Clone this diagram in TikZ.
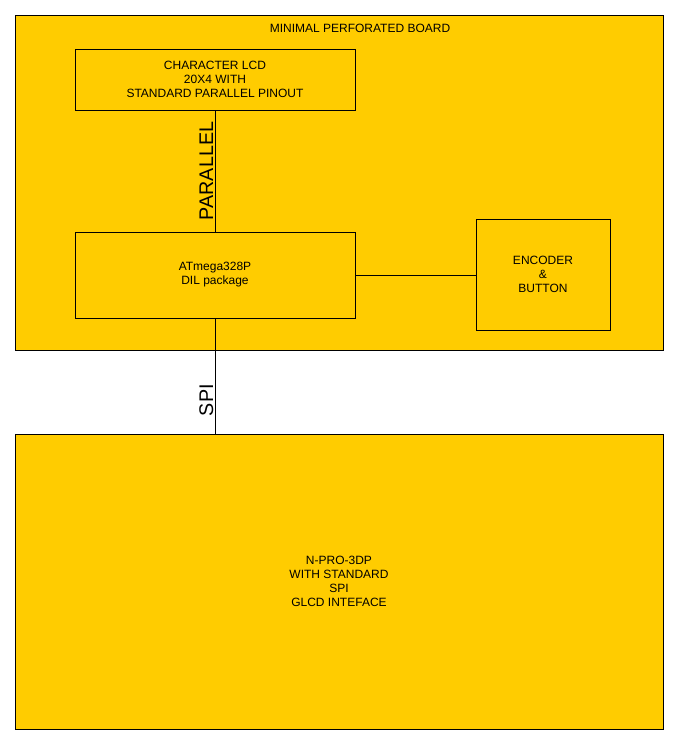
\documentclass[tikz,border=0pt]{standalone}
\usepackage{fontspec}
\setmainfont{Liberation Sans}
\usepackage{xcolor}
\definecolor{boardyellow}{HTML}{FFCC00}

\begin{document}
\begin{tikzpicture}[x=0.75pt,y=-0.75pt,
        block/.style={draw, fill=boardyellow, line width=0.7pt, inner sep=0pt,
          align=center, font=\fontsize{9}{10.5}\selectfont},
        buslabel/.style={rotate=90, anchor=south, inner sep=1pt,
          font=\fontsize{14.8}{16}\selectfont}]
        \useasboundingbox (0,0) rectangle (678,744);
        % board and its parts
        \node[block, minimum width=486pt, minimum height=251.25pt] (board) at (339,182.5) {};
        \node[font=\fontsize{9}{10.5}\selectfont] (boardtitle) at (360,28.5) {MINIMAL PERFORATED BOARD};
        \node[block, minimum width=210pt, minimum height=45.75pt] (lcd) at (215,79.5)
          {CHARACTER LCD\\20X4 WITH\\STANDARD PARALLEL PINOUT};
        \node[block, minimum width=210pt, minimum height=64.5pt] (mcu) at (215,275)
          {ATmega328P\\DIL package};
        \node[block, minimum width=100.5pt, minimum height=83.25pt] (enc) at (543,274.5)
          {ENCODER\\\&\\BUTTON};
        % printer board
        \node[block, minimum width=486pt, minimum height=221.25pt] (npro) at (339,581.5)
          {N-PRO-3DP\\WITH STANDARD\\SPI\\GLCD INTEFACE};
        % connections
        \draw[line width=0.7pt] (lcd.south) -- (mcu.north) node[buslabel, midway] (parlabel) {PARALLEL};
        \draw[line width=0.7pt] (mcu.east) -- (mcu.east -| enc.west);
        \draw[line width=0.7pt] (mcu.south) -- (mcu.south |- npro.north) node[buslabel, pos=0.71] (spilabel) {SPI};
      \end{tikzpicture}
\end{document}
